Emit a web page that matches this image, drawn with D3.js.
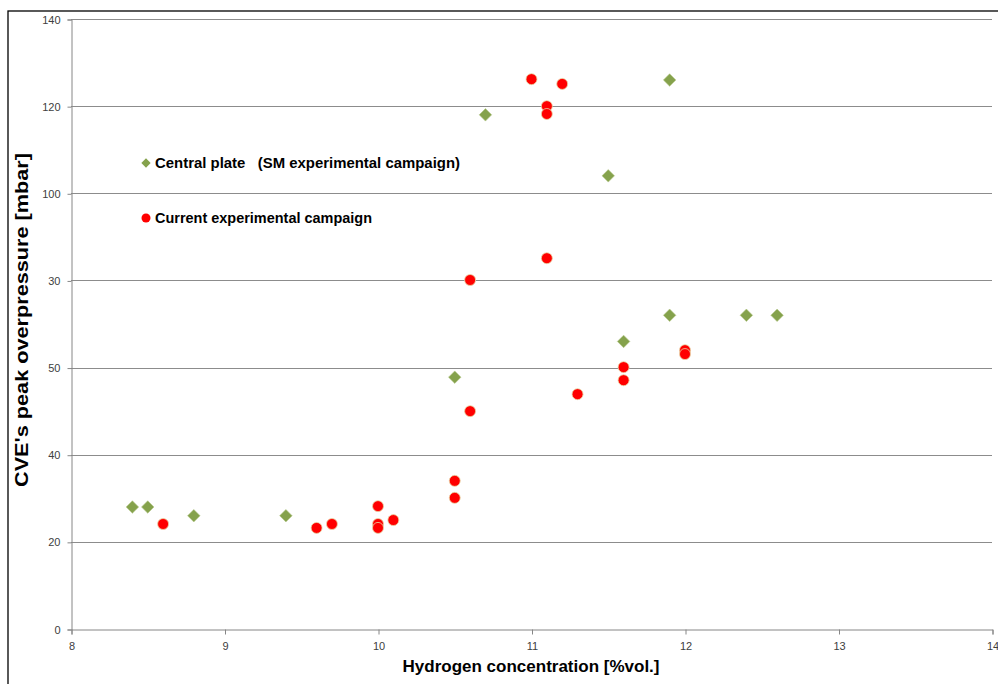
<!DOCTYPE html>
<html>
<head>
<meta charset="utf-8">
<script src="https://cdn.jsdelivr.net/npm/d3@7/dist/d3.min.js"></script>
<style>
  html, body { margin: 0; padding: 0; background: #fff; }
  svg { display: block; }
</style>
</head>
<body>
<svg id="chart" width="998" height="684"></svg>
<script>
// ---- Data ----
const xTicks = [8, 9, 10, 11, 12, 13, 14];
const yTicks = [0, 20, 40, 60, 80, 100, 120, 140];
const yTickLabels = ["0", "20", "40", "50", "30", "100", "120", "140"];

const centralX = [8.4, 8.5, 8.8, 9.4, 10.5, 10.7, 11.5, 11.6, 11.9, 11.9, 12.4, 12.6];
const centralY = [28, 28, 26, 26, 57.8, 118, 104, 66, 126, 72, 72, 72];

const currentX = [8.6, 9.6, 9.7, 10.0, 10.0, 10.0, 10.1, 10.5, 10.5, 10.6, 10.6, 11.0, 11.2, 11.1, 11.1, 11.1, 11.3, 11.6, 11.6, 12.0, 12.0];
const currentY = [24.1, 23.2, 24.1, 28.2, 24.1, 23.2, 25.0, 34.0, 30.1, 50.0, 80.1, 126.2, 125.1, 120.0, 118.2, 85.1, 53.9, 60.1, 57.1, 64.0, 63.1];

const seriesNames = ["Central plate   (SM experimental campaign)", "Current experimental campaign"];
const xTitle = "Hydrogen concentration [%vol.]";
const yTitle = "CVE's peak overpressure [mbar]";

// ---- Layout ----
const svg = d3.select("#chart");
const pLeft = 71, pRight = 992, pTop = 19, pBottom = 629;
const x = d3.scaleLinear().domain([8, 14]).range([pLeft, pRight]);
const y = d3.scaleLinear().domain([0, 140]).range([pBottom, pTop]);

const green = "#85a24c", red = "#ff0000";
const font = "'Liberation Sans', Arial, sans-serif";

// outer frame
svg.append("rect").attr("x", 8).attr("y", 11).attr("width", 1000).attr("height", 700)
  .attr("fill", "none").attr("stroke", "#000").attr("stroke-width", 1.3);

// gridlines
svg.append("g").selectAll("line").data(yTicks.filter(d => d > 0)).join("line")
  .attr("x1", pLeft).attr("x2", pRight)
  .attr("y1", d => Math.round(y(d)) + 0.5).attr("y2", d => Math.round(y(d)) + 0.5)
  .attr("stroke", "#8c8c8c").attr("stroke-width", 1);

// y axis
const yAxis = d3.axisLeft(y).tickValues(yTicks).tickSize(4).tickPadding(7)
  .tickFormat((d, i) => yTickLabels[i]);
const gy = svg.append("g").attr("transform", `translate(${pLeft + 0.5},0.5)`).call(yAxis);
gy.select(".domain").attr("stroke", "#868686");
gy.selectAll(".tick line").attr("stroke", "#868686");
gy.selectAll("text").attr("fill", "#404040").style("font-family", font).style("font-size", "11px");

// x axis
const xAxis = d3.axisBottom(x).tickValues(xTicks).tickSize(5).tickPadding(8).tickFormat(d3.format("d"));
const gx = svg.append("g").attr("transform", `translate(0.5,${pBottom + 0.5})`).call(xAxis);
gx.select(".domain").attr("stroke", "#868686");
gx.selectAll(".tick line").attr("stroke", "#868686");
gx.selectAll("text").attr("fill", "#404040").style("font-family", font).style("font-size", "11px");

// axis titles
svg.append("text").attr("x", 531).attr("y", 672).attr("text-anchor", "middle")
  .style("font-family", font).style("font-weight", "bold").style("font-size", "16.5px")
  .attr("textLength", 257).attr("lengthAdjust", "spacingAndGlyphs")
  .attr("fill", "#000").text(xTitle);
svg.append("text").attr("transform", "translate(28,320) rotate(-90)").attr("text-anchor", "middle")
  .style("font-family", font).style("font-weight", "bold").style("font-size", "18.5px")
  .attr("textLength", 334).attr("lengthAdjust", "spacingAndGlyphs")
  .attr("fill", "#000").text(yTitle);

// markers
const diamond = d3.symbol().type(d3.symbolDiamond2).size(100);
const centralData = centralX.map((v, i) => ({x: v, y: centralY[i]}));
const currentData = currentX.map((v, i) => ({x: v, y: currentY[i]}));

svg.append("g").selectAll("path").data(centralData).join("path")
  .attr("d", diamond)
  .attr("transform", d => `translate(${x(d.x)},${y(d.y)})`)
  .attr("fill", green).attr("stroke", "#b9c98f").attr("stroke-width", 0.6);

svg.append("g").selectAll("circle").data(currentData).join("circle")
  .attr("cx", d => x(d.x)).attr("cy", d => y(d.y)).attr("r", 5.5)
  .attr("fill", red).attr("stroke", "#e9d7a6").attr("stroke-width", 0.8);

// legend
const legendLens = [305, 217];
const lg = svg.append("g");
lg.append("path").attr("d", d3.symbol().type(d3.symbolDiamond2).size(55)())
  .attr("transform", "translate(146,163)").attr("fill", green);
lg.append("circle").attr("cx", 146).attr("cy", 218).attr("r", 4.5).attr("fill", red);
lg.selectAll("text").data(seriesNames).join("text")
  .attr("x", 155).attr("y", (d, i) => i === 0 ? 168 : 223)
  .style("font-family", font).style("font-weight", "bold").style("font-size", "14.5px")
  .style("white-space", "pre").attr("xml:space", "preserve")
  .attr("textLength", (d, i) => legendLens[i]).attr("lengthAdjust", "spacingAndGlyphs")
  .attr("fill", "#000").text(d => d);
</script>
</body>
</html>
